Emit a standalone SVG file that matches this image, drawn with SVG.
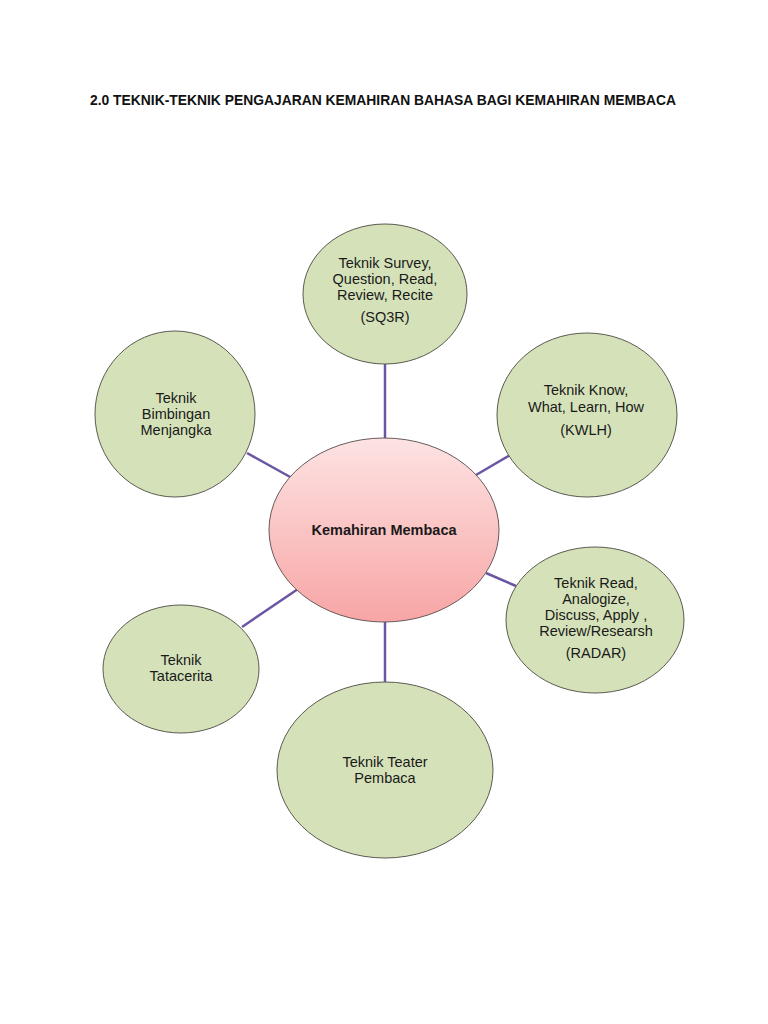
<svg xmlns="http://www.w3.org/2000/svg" width="768" height="1024" viewBox="0 0 768 1024">
<defs>
<linearGradient id="pinkGrad" x1="0" y1="0" x2="0" y2="1">
<stop offset="0" stop-color="#fde3e3"/>
<stop offset="1" stop-color="#f8a5a5"/>
</linearGradient>
<style>
.node{fill:#d5e2b9;stroke:#5a5a50;stroke-width:1}
.center{fill:url(#pinkGrad);stroke:#6a5a5a;stroke-width:1}
.lbl{font-family:"Liberation Sans",Arial,sans-serif;font-size:14.5px;fill:#1a1a1a;text-anchor:middle}
.bold{font-weight:bold}
.conn{stroke:#6b56a3;stroke-width:2.5;fill:none}
</style>
</defs>
<rect width="768" height="1024" fill="#ffffff"/>
<text x="383" y="105" font-family="'Liberation Sans',Arial,sans-serif" font-size="14" font-weight="bold" fill="#111" text-anchor="middle" textLength="586" lengthAdjust="spacingAndGlyphs">2.0 TEKNIK-TEKNIK PENGAJARAN KEMAHIRAN BAHASA BAGI KEMAHIRAN MEMBACA</text>
<g id="connectors">
<line class="conn" x1="385" y1="363" x2="385" y2="440"/>
<line class="conn" x1="247" y1="453" x2="292" y2="478"/>
<line class="conn" x1="510" y1="455" x2="476" y2="475"/>
<line class="conn" x1="516" y1="586" x2="486" y2="573"/>
<line class="conn" x1="242" y1="627" x2="298" y2="589"/>
<line class="conn" x1="385" y1="621" x2="385" y2="682"/>
</g>
<g id="center">
<ellipse class="center" cx="384" cy="530" rx="115" ry="92"/>
<text class="lbl bold" x="384" y="535">Kemahiran Membaca</text>
</g>
<g id="sq3r">
<ellipse class="node" cx="385" cy="294" rx="82" ry="70"/>
<text class="lbl" x="385" y="268">Teknik Survey,</text>
<text class="lbl" x="385" y="284">Question, Read,</text>
<text class="lbl" x="385" y="300">Review, Recite</text>
<text class="lbl" x="385" y="322">(SQ3R)</text>
</g>
<g id="bimbingan">
<ellipse class="node" cx="175" cy="414" rx="80" ry="83"/>
<text class="lbl" x="176" y="403">Teknik</text>
<text class="lbl" x="176" y="419">Bimbingan</text>
<text class="lbl" x="176" y="435">Menjangka</text>
</g>
<g id="kwlh">
<ellipse class="node" cx="587" cy="415" rx="90" ry="82"/>
<text class="lbl" x="586" y="395">Teknik Know,</text>
<text class="lbl" x="586" y="412">What, Learn, How</text>
<text class="lbl" x="586" y="435">(KWLH)</text>
</g>
<g id="radar">
<ellipse class="node" cx="595" cy="620" rx="89" ry="73"/>
<text class="lbl" x="596" y="588">Teknik Read,</text>
<text class="lbl" x="596" y="604">Analogize,</text>
<text class="lbl" x="596" y="620">Discuss, Apply ,</text>
<text class="lbl" x="596" y="636">Review/Researsh</text>
<text class="lbl" x="596" y="658">(RADAR)</text>
</g>
<g id="tatacerita">
<ellipse class="node" cx="181" cy="669" rx="78" ry="64"/>
<text class="lbl" x="181" y="665">Teknik</text>
<text class="lbl" x="181" y="681">Tatacerita</text>
</g>
<g id="teater">
<ellipse class="node" cx="385" cy="770" rx="108" ry="88"/>
<text class="lbl" x="385" y="767">Teknik Teater</text>
<text class="lbl" x="385" y="783">Pembaca</text>
</g>
</svg>
